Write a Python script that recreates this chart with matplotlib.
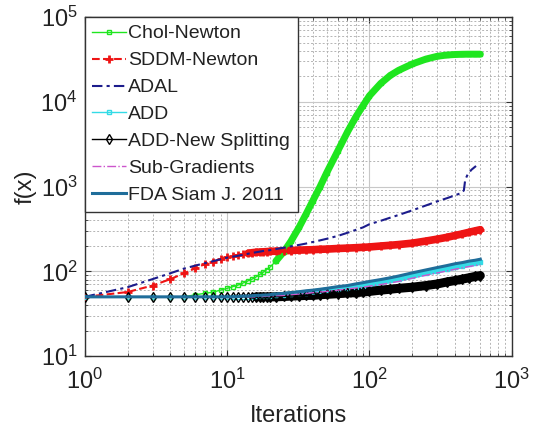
import matplotlib
matplotlib.use("Agg")
import matplotlib.pyplot as plt
import numpy as np

plt.rcParams['font.family'] = ['Liberation Sans', 'DejaVu Sans']
plt.rcParams['mathtext.fontset'] = 'custom'
plt.rcParams['mathtext.rm'] = 'Liberation Sans'

# iteration numbers shared by most of the curves
iters = list(range(1, 21)) + [22, 25, 28, 32, 36, 40, 45, 50, 60, 70, 80, 90, 100,
                              120, 140, 160, 200, 250, 300, 350, 400, 450, 500, 550, 600]

chol_newton = [50, 50, 50, 50, 50, 53, 55, 57, 60, 63, 66, 69, 73, 77, 81, 86, 92, 98, 105, 112,
               132, 170, 225, 330, 480, 680, 1000, 1450, 2650, 4400, 6600, 9000, 11800,
               16500, 20500, 23500, 28000, 32000, 34500, 35700, 36200, 36400, 36500, 36500, 36500]

sddm_newton = [50, 57, 68, 81, 95, 109, 122, 130, 139, 148, 153, 157, 160, 163, 166, 168, 169, 170, 171, 172,
               173, 175, 176, 178, 179, 180, 182, 183, 186, 188, 190, 192, 194,
               199, 203, 207, 215, 228, 240, 252, 265, 277, 289, 300, 310]

add = [50, 50, 50, 50, 50, 50, 50, 50, 50, 50, 50, 50, 50, 50, 50, 50.5, 50.5, 51, 51, 51.5,
       52, 53, 54, 55, 56, 57, 58.5, 60, 62, 64, 66, 68, 70,
       74, 78, 81, 88, 96, 102, 107, 112, 117, 121, 125, 128]

add_new = [50, 50, 50, 50, 50, 50, 50, 50, 50, 50, 50, 50, 50, 50, 50, 50, 50, 50, 50, 50,
           50, 50.5, 51, 51.5, 52, 52, 53, 53.5, 54.5, 55.5, 56, 57, 58,
           60, 61.5, 63, 65, 68, 71, 75, 78, 81, 84, 87, 89]

sub_grad = [50, 50, 50, 50, 50, 50, 50, 50, 50, 50, 50, 50, 50, 50, 50, 50, 50.5, 50.5, 51, 51,
            51.5, 52, 53, 54, 55, 56, 57, 58, 60, 62, 63.5, 65, 67,
            70, 73, 76, 83, 90, 96, 101, 106, 110, 114, 117, 120]

fda = [50, 50, 50, 50, 50, 50, 50, 50, 50, 50, 50, 50.5, 51, 51, 51.5, 52, 52, 52.5, 52.5, 53,
       54, 55, 56, 57.5, 59, 60, 61.5, 63, 66, 68, 71, 73.5, 76,
       80, 84, 88, 96, 104, 111, 117, 123, 127, 132, 135, 139]

# ADAL stops a little earlier and jumps near the end
adal_iters = list(range(1, 21)) + [22, 25, 28, 32, 36, 40, 45, 50, 60, 70, 80, 90, 100,
                                   120, 140, 160, 200, 250, 300, 350, 400, 440, 460, 470, 490, 520, 560]
adal = [50, 65, 81, 95, 108, 117, 125, 132, 139, 145, 149, 153, 157, 161, 165, 168, 171, 174, 176, 178,
        183, 190, 197, 205, 213, 222, 232, 242, 262, 285, 308, 330, 360,
        395, 430, 462, 525, 600, 670, 730, 790, 840, 900, 1200, 1400, 1580, 1750]

it = np.array(iters)


def dense_band(ax, y, start, color, width):
    # markers at every iteration pile up into a solid band
    m = it >= start
    ax.plot(it[m], np.array(y)[m], color=color, lw=width, solid_capstyle='round',
            solid_joinstyle='round', zorder=2)


fig = plt.figure(figsize=(5.36, 4.38), dpi=100)
ax = fig.add_axes([0.158, 0.187, 0.797, 0.774])

green = '#1fe61f'
red = '#ee1414'
navy = '#1c1c8c'
cyan = '#33dbe6'
magenta = '#cc55cc'
steel = '#1f6d9a'

dense_band(ax, chol_newton, 22, green, 5)
h1, = ax.plot(it, chol_newton, color=green, lw=1, marker='s', ms=3.5, mfc='none', mew=1,
              label='Chol-Newton', zorder=3)
dense_band(ax, sddm_newton, 14, red, 5.5)
h2, = ax.plot(it, sddm_newton, color=red, lw=1.5, ls='--', marker='+', ms=6, mew=2,
              label='SDDM-Newton', zorder=3)
h3, = ax.plot(adal_iters, adal, color=navy, lw=1.5, ls=(0, (5, 2, 1.5, 2)),
              label='ADAL', zorder=4)
dense_band(ax, add, 16, cyan, 4)
h4, = ax.plot(it, add, color=cyan, lw=1, marker='s', ms=3.5, mfc='none', mew=1,
              label='ADD', zorder=3)
dense_band(ax, add_new, 16, 'black', 6.5)
h5, = ax.plot(it, add_new, color='black', lw=1, marker='d', ms=5, mfc='none', mew=1,
              label='ADD-New Splitting', zorder=3)
h6, = ax.plot(it, sub_grad, color=magenta, lw=1, ls='-.', label='Sub-Gradients', zorder=4)
h7, = ax.plot(it, fda, color=steel, lw=2.2, label='FDA Siam J. 2011', zorder=4)

ax.set_xscale('log')
ax.set_yscale('log')
ax.set_xlim(1, 1000)
ax.set_ylim(10, 1e5)

ax.grid(True, which='major', color='#c8c8c8', ls='-', lw=0.8)
ax.grid(True, which='minor', color='#b4b4b4', ls=(0, (2, 2)), lw=0.7)
ax.set_axisbelow(True)

ax.tick_params(which='both', direction='in', top=True, right=True, colors='#333333',
               labelsize=17, labelcolor='#222222')
ax.tick_params(which='major', length=4, width=0.8)
ax.tick_params(which='minor', length=2.5, width=0.6)
ax.tick_params(axis='x', pad=9)
ax.tick_params(axis='y', pad=5)
for s in ax.spines.values():
    s.set_color('#333333')
    s.set_linewidth(1.0)

ax.set_xlabel('Iterations', fontsize=17, color='#222222', labelpad=8)
ax.set_ylabel('f(x)', fontsize=17, color='#222222', labelpad=3)

leg = ax.legend(handles=[h1, h2, h3, h4, h5, h6, h7], loc='upper left', fontsize=14,
                frameon=True, fancybox=False, edgecolor='#333333', framealpha=1,
                borderaxespad=0, borderpad=0.4, labelspacing=0.48, handlelength=1.7,
                handletextpad=0.15, numpoints=1)
leg.get_frame().set_linewidth(1.0)
for t in leg.get_texts():
    t.set_color('#222222')

fig.savefig('out.png', dpi=100)
